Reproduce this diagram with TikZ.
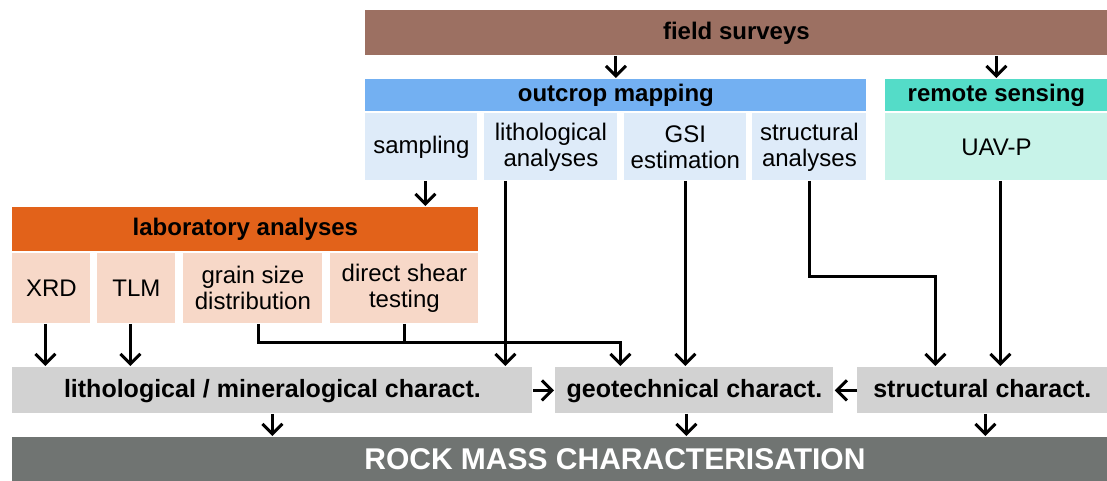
\documentclass[tikz,border=0pt]{standalone}
\usepackage{fontspec}
\setmainfont{Liberation Sans}
\usetikzlibrary{
	arrows.meta,
	calc,
	positioning
}
\definecolor{surveybrown}{RGB}{156,112,98}
\definecolor{mapblue}{RGB}{115,176,242}
\definecolor{mapblue-lt}{RGB}{222,235,249}
\definecolor{remoteteal}{RGB}{84,220,200}
\definecolor{remoteteal-lt}{RGB}{200,243,233}
\definecolor{laborange}{RGB}{226,98,26}
\definecolor{laborange-lt}{RGB}{247,216,200}
\definecolor{charactgray}{RGB}{210,210,210}
\definecolor{rockgray}{RGB}{112,116,114}
\tikzset{
	RM-Box/.style={rectangle,anchor=north west,inner sep=0pt,align=center,font=\fontsize{12}{13}\selectfont},
	RM-Head/.style={RM-Box,text height=9pt,text depth=2.5pt,font=\bfseries\fontsize{12}{13}\selectfont},
	RM-Char/.style={RM-Box,fill=charactgray,minimum height=23pt,text height=9.5pt,text depth=2.5pt,font=\bfseries\fontsize{12.5}{14}\selectfont},
	RM-Arrow/.style={-{Straight Barb[length=5pt,width=10pt]},line width=1.5pt,shorten >=0.5pt},
	RM-Line/.style={line width=1.5pt}
}

\begin{document}
\begin{tikzpicture}[x=0.5pt,y=-0.5pt]
	\useasboundingbox (0,0) rectangle (1107,481);
	% field work
	\node [RM-Head,fill=surveybrown,minimum width=371pt,minimum height=22.5pt] (fs) at (365,10) {field surveys};
	\node [RM-Head,fill=mapblue,minimum width=250.5pt,minimum height=16pt] (om) at (365,79) {outcrop mapping};
	\node [RM-Head,fill=remoteteal,minimum width=111pt,minimum height=16pt] (rs) at (885,79) {remote sensing};
	\node [RM-Box,fill=mapblue-lt,minimum width=56pt,minimum height=33.5pt] (samp) at (365,113) {sampling};
	\node [RM-Box,fill=mapblue-lt,minimum width=66.5pt,minimum height=33.5pt] (lith) at (484,113) {lithological\\analyses};
	\node [RM-Box,fill=mapblue-lt,minimum width=61pt,minimum height=33.5pt] (gsi) at (624,113) {GSI\\estimation};
	\node [RM-Box,fill=mapblue-lt,minimum width=57pt,minimum height=33.5pt] (str) at (752,113) {structural\\analyses};
	\node [RM-Box,fill=remoteteal-lt,minimum width=111pt,minimum height=33.5pt] (uav) at (885,113) {UAV-P};
	% laboratory
	\node [RM-Head,fill=laborange,minimum width=233pt,minimum height=22pt] (la) at (12,207) {laboratory analyses};
	\node [RM-Box,fill=laborange-lt,minimum width=39pt,minimum height=35pt] (xrd) at (12,253) {XRD};
	\node [RM-Box,fill=laborange-lt,minimum width=39pt,minimum height=35pt] (tlm) at (97,253) {TLM};
	\node [RM-Box,fill=laborange-lt,minimum width=69.5pt,minimum height=35pt] (gsd) at (183,253) {grain size\\distribution};
	\node [RM-Box,fill=laborange-lt,minimum width=74pt,minimum height=35pt] (dst) at (330,253) {direct shear\\testing};
	% characterisation
	\node [RM-Char,minimum width=260pt] (lmc) at (12,367) {lithological / mineralogical charact.};
	\node [RM-Char,minimum width=139pt] (geo) at (555,367) {geotechnical charact.};
	\node [RM-Char,minimum width=125pt] (stc) at (857,367) {structural charact.};
	\node [RM-Box,fill=rockgray,minimum width=547.5pt,minimum height=22pt,
		label={[xshift=27.5pt,text=white,font=\bfseries\fontsize{15}{16}\selectfont]center:ROCK MASS CHARACTERISATION}] (rmc) at (12,437) {};

	\draw [RM-Arrow] (fs.south -| om.north) -- (om.north);
	\draw [RM-Arrow] (fs.south -| rs.north) -- (rs.north);
	\draw [RM-Arrow] ([xshift=2pt]samp.south) -- ([xshift=2pt]samp.south |- la.north);
	\draw [RM-Arrow] ([xshift=-22.75pt]lith.south) -- ([xshift=-22.75pt]lith.south |- lmc.north);
	\draw [RM-Arrow] (gsi.south) -- (gsi.south |- geo.north);
	\draw [RM-Arrow] (str.south) -- ++(0,96) -| ([xshift=-23.5pt]stc.north);
	\draw [RM-Arrow] ([xshift=2pt]uav.south) -- ([xshift=2pt]uav.south |- stc.north);
	\draw [RM-Arrow] ([xshift=-3pt]xrd.south) -- ([xshift=-3pt]xrd.south |- lmc.north);
	\draw [RM-Arrow] ([xshift=-3pt]tlm.south) -- ([xshift=-3pt]tlm.south |- lmc.north);
	\draw [RM-Arrow] ([xshift=3pt]gsd.south) -- ++(0,19) coordinate (gsdturn) -| ([xshift=-37pt]geo.north);
	\draw [RM-Line] (dst.south) -- (dst.south |- gsdturn);
	\draw [RM-Arrow] (lmc.east) -- (geo.west);
	\draw [RM-Arrow] (stc.west) -- (geo.east);
	% down to rock mass
	\draw [RM-Arrow] (lmc.south) -- (lmc.south |- rmc.north);
	\draw [RM-Arrow] ([xshift=-4pt]geo.south) -- ([xshift=-4pt]geo.south |- rmc.north);
	\draw [RM-Arrow] ([xshift=1.5pt]stc.south) -- ([xshift=1.5pt]stc.south |- rmc.north);
\end{tikzpicture}
\end{document}
